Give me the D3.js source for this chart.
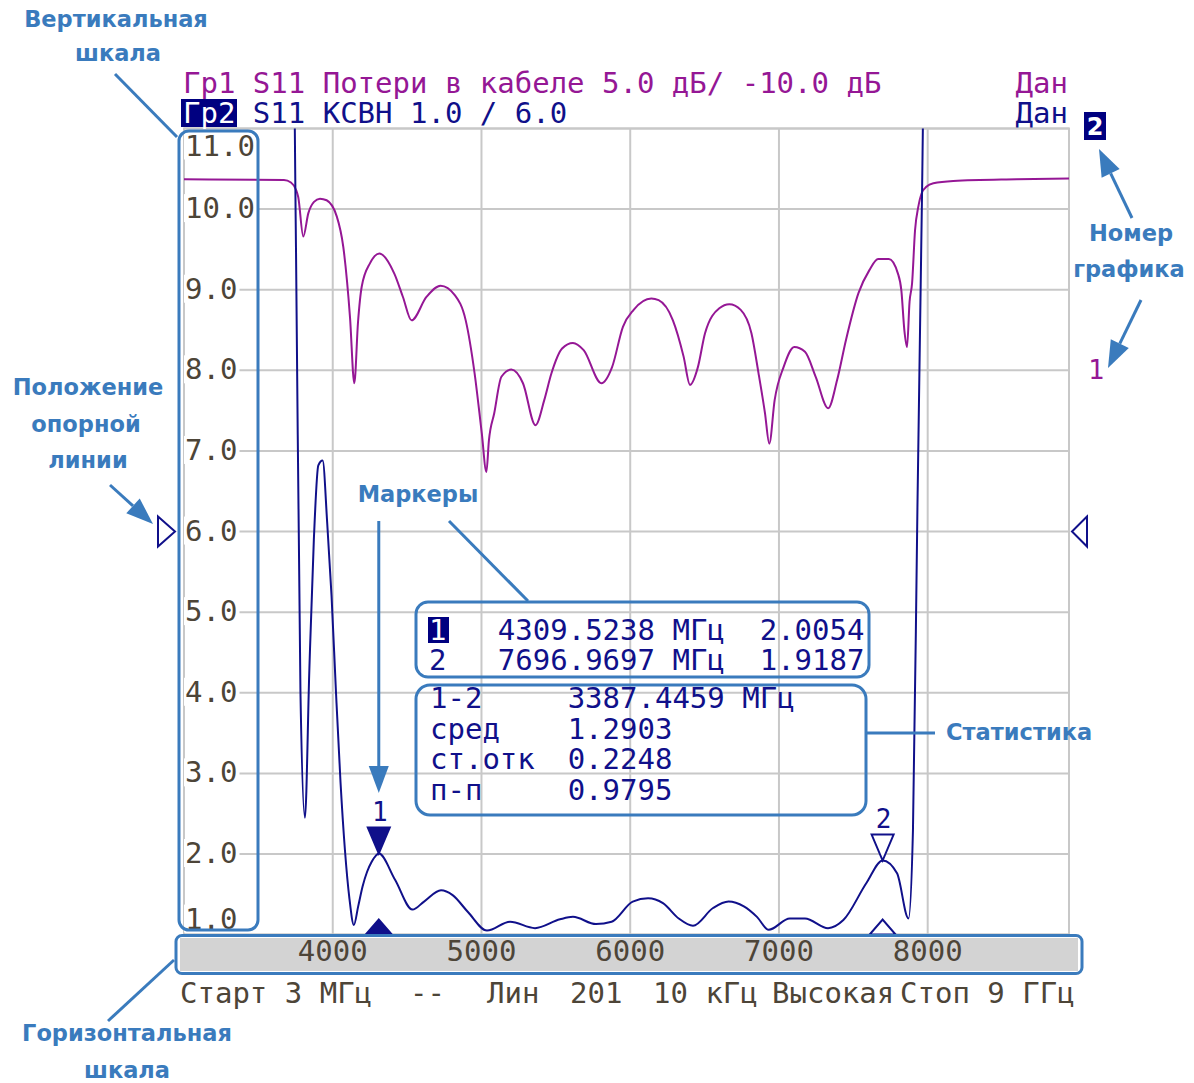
<!DOCTYPE html>
<html lang="ru">
<head>
<meta charset="UTF-8">
<title>S11 КСВН / Потери в кабеле</title>
<script src="https://d3js.org/d3.v7.min.js"></script>
<style>
  body { margin: 0; background: #fff; }
  .mono { font-family: "DejaVu Sans Mono", monospace; }
  .note { font-family: "DejaVu Sans", sans-serif; font-weight: bold; font-size: 22.5px; fill: #3a7bbd; }
</style>
</head>
<body>
<div id="chart"></div>
<script>
// sweep, MHz (visible part of the screen)
var sweepStart = 3000, sweepEnd = 8950;
var xTicks = [4000, 5000, 6000, 7000, 8000];
var yTicks = [1, 2, 3, 4, 5, 6, 7, 8, 9, 10, 11];
var refLevel = 6;

// trace 2: S11 VSWR
var vswrFreq = [3000, 3723, 3753, 3783, 3813, 3843, 3873, 3903, 3932, 3963, 3992, 4022, 4052, 4082, 4112, 4142,
  4171, 4201, 4231, 4261, 4290, 4310, 4419, 4536, 4614, 4728, 4806, 4909, 5037, 5192, 5360, 5528, 5615, 5770,
  5875, 6017, 6120, 6220, 6326, 6422, 6557, 6661, 6764, 6852, 6931, 7073, 7175, 7330, 7433, 7588, 7697, 7794,
  7871, 7901, 7931, 7962, 7992, 8950];
var vswrValue = [14, 14, 9.5, 4.0, 2.45, 4.3, 5.9, 6.82, 6.88, 6.1, 5.2, 4.0, 2.9, 2.05, 1.45, 1.12,
  1.35, 1.6, 1.78, 1.9, 1.98, 2.0054, 1.68, 1.31, 1.41, 1.55, 1.49, 1.28, 1.05, 1.16, 1.08, 1.19, 1.22, 1.13,
  1.16, 1.41, 1.45, 1.39, 1.2, 1.11, 1.33, 1.41, 1.35, 1.22, 1.06, 1.2, 1.2, 1.08, 1.18, 1.64, 1.9187, 1.76,
  1.2, 2.3, 6.3, 10.2, 14, 14];

// trace 1: S11 cable loss, dB (5 dB/div, ref -10 dB)
var lossFreq = [3000, 3672, 3719, 3753, 3768, 3802, 3836, 3874, 3914, 3959, 4027, 4071, 4116, 4145, 4170, 4195,
  4251, 4313, 4414, 4472, 4530, 4630, 4725, 4822, 4894, 4954, 5002, 5033, 5050, 5086, 5134, 5201, 5279, 5363,
  5422, 5470, 5542, 5615, 5687, 5806, 5878, 5951, 6023, 6142, 6191, 6287, 6359, 6402, 6455, 6503, 6599, 6666,
  6743, 6815, 6863, 6906, 6935, 6971, 7031, 7103, 7175, 7247, 7331, 7391, 7451, 7535, 7607, 7667, 7739, 7800,
  7823, 7843, 7861, 7878, 7895, 7915, 7937, 7960, 7993, 8038, 8172, 8598, 8950];
var lossValue = [11.85, 11.8, 11.65, 11.2, 10.75, 8.3, 9.75, 10.45, 10.65, 10.55, 9.55, 7.65, 3.3, -0.8, 3.0, 5.2,
  6.65, 7.25, 6.0, 4.55, 3.1, 4.55, 5.25, 4.65, 3.1, -0.2, -3.9, -6.3, -4.35, -2.65, -0.4, 0.05, -0.8, -3.4,
  -1.85, -0.2, 1.35, 1.7, 1.25, -0.8, 0.2, 2.7, 3.75, 4.45, 4.35, 3.1, 0.85, -0.9, 0.2, 2.3, 3.85, 4.1,
  3.75, 2.3, -0.2, -2.65, -4.55, -1.85, 0.2, 1.45, 1.15, -0.4, -2.35, -0.6, 1.9, 4.8, 6.2, 6.9, 6.9, 6.0,
  4.95, 2.5, 1.45, 4.25, 5.4, 8.7, 10.15, 11.0, 11.4, 11.6, 11.75, 11.85, 11.9];

// markers
var markerNames = ["1", "2"];
var markerFreq = [4309.5238, 7696.9697];
var markerValue = [2.0054, 1.9187];
var statNames = ["1-2", "сред", "ст.отк", "п-п"];
var statValues = ["3387.4459 МГц", "1.2903", "0.2248", "0.9795"];

// header / status texts
var header1 = "Гр1 S11 Потери в кабеле 5.0 дБ/ -10.0 дБ";
var header2 = " S11 КСВН 1.0 / 6.0";
var statusFields = ["Старт 3 МГц", "--", "Лин", "201", "10 кГц", "Высокая", "Стоп 9 ГГц"];

var W = 1194, H = 1083;
var pLeft = 184, pRight = 1069, pTop = 128.5, pBottom = 934.6;
var navy = "#10108a", purple = "#951795", gridCol = "#c8c8c8", note = "#3a7bbd", tickCol = "#4d4538";

var svg = d3.select("#chart").append("svg")
  .attr("width", W).attr("height", H);

var x = d3.scaleLinear().domain([sweepStart, sweepEnd]).range([pLeft, pRight]);
var yV = d3.scaleLinear().domain([1, 11]).range([pBottom, pTop]);
var yL = d3.scaleLinear().domain([-35, 15]).range([pBottom, pTop]);

// grid
svg.append("g").selectAll("line").data(yTicks).join("line")
  .attr("x1", pLeft).attr("x2", pRight)
  .attr("y1", d => yV(d)).attr("y2", d => yV(d))
  .attr("stroke", gridCol).attr("stroke-width", 2);
svg.append("g").selectAll("line").data(xTicks).join("line")
  .attr("x1", d => x(d)).attr("x2", d => x(d))
  .attr("y1", pTop).attr("y2", pBottom)
  .attr("stroke", gridCol).attr("stroke-width", 2);
svg.append("rect").attr("x", pLeft).attr("y", pTop)
  .attr("width", pRight - pLeft).attr("height", pBottom - pTop)
  .attr("fill", "none").attr("stroke", gridCol).attr("stroke-width", 2);

// vertical scale labels
function labelY(d) {
  if (d == 11) return yV(d) + 27;
  if (d == 1) return yV(d) - 6;
  return yV(d) + 9;
}
var yLab = svg.append("g");
yLab.selectAll("rect").data(yTicks).join("rect")
  .attr("x", pLeft).attr("y", d => labelY(d) - 24)
  .attr("width", d => d3.format(".1f")(d).length * 17.5 + 3).attr("height", 28)
  .attr("fill", "#fff");
yLab.selectAll("text").data(yTicks).join("text")
  .attr("class", "mono").attr("font-size", 29).attr("fill", tickCol)
  .attr("x", pLeft + 1).attr("y", labelY)
  .text(d3.format(".1f"));

// horizontal scale bar
svg.append("rect").attr("x", 180).attr("y", 938).attr("width", 898).attr("height", 33).attr("fill", "#d3d3d3");
svg.append("g").selectAll("text").data(xTicks).join("text")
  .attr("class", "mono").attr("font-size", 29).attr("fill", tickCol)
  .attr("text-anchor", "middle").attr("x", d => x(d)).attr("y", 961)
  .text(d => d);

// header
svg.append("text").attr("class", "mono").attr("font-size", 29).attr("fill", purple)
  .attr("x", 183).attr("y", 93).text(header1);
svg.append("rect").attr("x", 181).attr("y", 99).attr("width", 56).attr("height", 28).attr("fill", "#000080");
svg.append("text").attr("class", "mono").attr("font-size", 29).attr("fill", "#fff")
  .attr("x", 183).attr("y", 123).text("Гр2");
svg.append("text").attr("class", "mono").attr("font-size", 29).attr("fill", navy)
  .attr("x", 235.4).attr("y", 123).style("white-space", "pre").text(header2);
svg.append("text").attr("class", "mono").attr("font-size", 29).attr("fill", purple)
  .attr("x", 1068).attr("y", 93).attr("text-anchor", "end").text("Дан");
svg.append("text").attr("class", "mono").attr("font-size", 29).attr("fill", navy)
  .attr("x", 1068).attr("y", 123).attr("text-anchor", "end").text("Дан");

// trace number labels on the right
svg.append("rect").attr("x", 1084).attr("y", 112).attr("width", 22).attr("height", 28).attr("fill", "#000080");
svg.append("text").attr("font-family", "DejaVu Sans").attr("font-weight", "bold").attr("font-size", 24)
  .attr("fill", "#fff").attr("x", 1095).attr("y", 135).attr("text-anchor", "middle").text("2");
svg.append("text").attr("class", "mono").attr("font-size", 27).attr("fill", purple)
  .attr("x", 1088).attr("y", 379).text("1");

// traces
svg.append("clipPath").attr("id", "plotclip").append("rect")
  .attr("x", pLeft).attr("y", pTop).attr("width", pRight - pLeft).attr("height", pBottom - pTop);
var traces = svg.append("g").attr("clip-path", "url(#plotclip)");

var lossLine = d3.line().curve(d3.curveMonotoneX)
  .x((d, i) => x(lossFreq[i])).y(d => yL(d));
traces.append("path").datum(lossValue)
  .attr("fill", "none").attr("stroke", purple).attr("stroke-width", 2).attr("d", lossLine);

var vswrLine = d3.line().curve(d3.curveMonotoneX)
  .x((d, i) => x(vswrFreq[i])).y(d => yV(d));
traces.append("path").datum(vswrValue)
  .attr("fill", "none").attr("stroke", navy).attr("stroke-width", 2).attr("d", vswrLine);

// reference level triangles
var ry = yV(refLevel);
svg.append("path").attr("d", `M158,${ry - 15}L175,${ry}L158,${ry + 15}Z`)
  .attr("fill", "#fff").attr("stroke", navy).attr("stroke-width", 2);
svg.append("path").attr("d", `M1087,${ry - 15}L1072,${ry}L1087,${ry + 15}Z`)
  .attr("fill", "#fff").attr("stroke", navy).attr("stroke-width", 2);

// markers
markerNames.forEach(function (m, i) {
  var mx = x(markerFreq[i]), my = yV(markerValue[i]);
  var filled = i == 0;
  svg.append("path").attr("d", `M${mx - 11},${my - 26}L${mx + 11},${my - 26}L${mx},${my}Z`)
    .attr("fill", filled ? navy : "#fff").attr("stroke", navy).attr("stroke-width", 2);
  svg.append("text").attr("class", "mono").attr("font-size", 26).attr("fill", navy)
    .attr("text-anchor", "middle").attr("x", mx + 1).attr("y", my - 33).text(m);
  svg.append("path").attr("d", `M${mx - 13},${pBottom}L${mx + 13},${pBottom}L${mx},${pBottom - 15}Z`)
    .attr("fill", filled ? navy : "#fff").attr("stroke", navy).attr("stroke-width", 2);
});

// marker table
var cw = 29 * 0.602, tx = 428;
var fmtF = d3.format(".4f");
markerNames.forEach(function (m, i) {
  var by = 640 + i * 30;
  if (i == 0) svg.append("rect").attr("x", tx).attr("y", by - 23).attr("width", 21).attr("height", 26).attr("fill", "#000080");
  svg.append("text").attr("class", "mono").attr("font-size", 29).attr("fill", i == 0 ? "#fff" : navy)
    .attr("x", tx + 1).attr("y", by).text(m);
  svg.append("text").attr("class", "mono").attr("font-size", 29).attr("fill", navy)
    .attr("x", tx + 4 * cw).attr("y", by).text(fmtF(markerFreq[i]) + " МГц");
  svg.append("text").attr("class", "mono").attr("font-size", 29).attr("fill", navy)
    .attr("x", tx + 19 * cw).attr("y", by).text(fmtF(markerValue[i]));
});
statNames.forEach(function (s, i) {
  var by = 708 + i * 30.7;
  svg.append("text").attr("class", "mono").attr("font-size", 29).attr("fill", navy)
    .attr("x", tx + 2).attr("y", by).text(s);
  svg.append("text").attr("class", "mono").attr("font-size", 29).attr("fill", navy)
    .attr("x", tx + 8 * cw).attr("y", by).text(statValues[i]);
});

// status line
var statusX = [180, 410, 487, 570, 653, 772, 900];
svg.append("g").selectAll("text").data(statusFields).join("text")
  .attr("class", "mono").attr("font-size", 29).attr("fill", tickCol)
  .attr("x", (d, i) => statusX[i]).attr("y", 1003)
  .text(d => d);

// ---- annotations ----
var ann = svg.append("g");
function box(x0, y0, w, h, r) {
  ann.append("rect").attr("x", x0).attr("y", y0).attr("width", w).attr("height", h)
    .attr("rx", r).attr("fill", "none").attr("stroke", note).attr("stroke-width", 3);
}
function seg(x1, y1, x2, y2) {
  ann.append("line").attr("x1", x1).attr("y1", y1).attr("x2", x2).attr("y2", y2)
    .attr("stroke", note).attr("stroke-width", 3);
}
function arrow(x1, y1, x2, y2) {
  var a = Math.atan2(y2 - y1, x2 - x1), L = 27, hw = 10;
  var bx = x2 - L * Math.cos(a), by = y2 - L * Math.sin(a);
  seg(x1, y1, bx, by);
  ann.append("path")
    .attr("d", `M${x2},${y2}L${bx + hw * Math.sin(a)},${by - hw * Math.cos(a)}L${bx - hw * Math.sin(a)},${by + hw * Math.cos(a)}Z`)
    .attr("fill", note);
}
function noteText(t, cx, by) {
  ann.append("text").attr("class", "note").attr("text-anchor", "middle").attr("x", cx).attr("y", by).text(t);
}

box(179, 131, 79, 799, 10);
box(176, 935.5, 906, 38, 6);
box(416, 602, 453, 75, 12);
box(416, 685, 450, 130, 14);

noteText("Вертикальная", 116, 27);
noteText("шкала", 118, 61);
seg(115, 74, 177, 137);

noteText("Положение", 88, 395);
noteText("опорной", 86, 432);
noteText("линии", 88, 468);
arrow(110, 485, 153, 524);

noteText("Маркеры", 418, 502);
arrow(x(markerFreq[0]), 521, x(markerFreq[0]), 793);
seg(449, 521, 528, 601);

noteText("Номер", 1131, 241);
noteText("графика", 1129, 277);
arrow(1132, 218, 1099, 149);
arrow(1141, 300, 1108, 368);

seg(866, 733, 935, 733);
ann.append("text").attr("class", "note").attr("x", 946).attr("y", 740).text("Статистика");

noteText("Горизонтальная", 127, 1041);
noteText("шкала", 127, 1078);
seg(108, 1021, 174, 960);
</script>
</body>
</html>
